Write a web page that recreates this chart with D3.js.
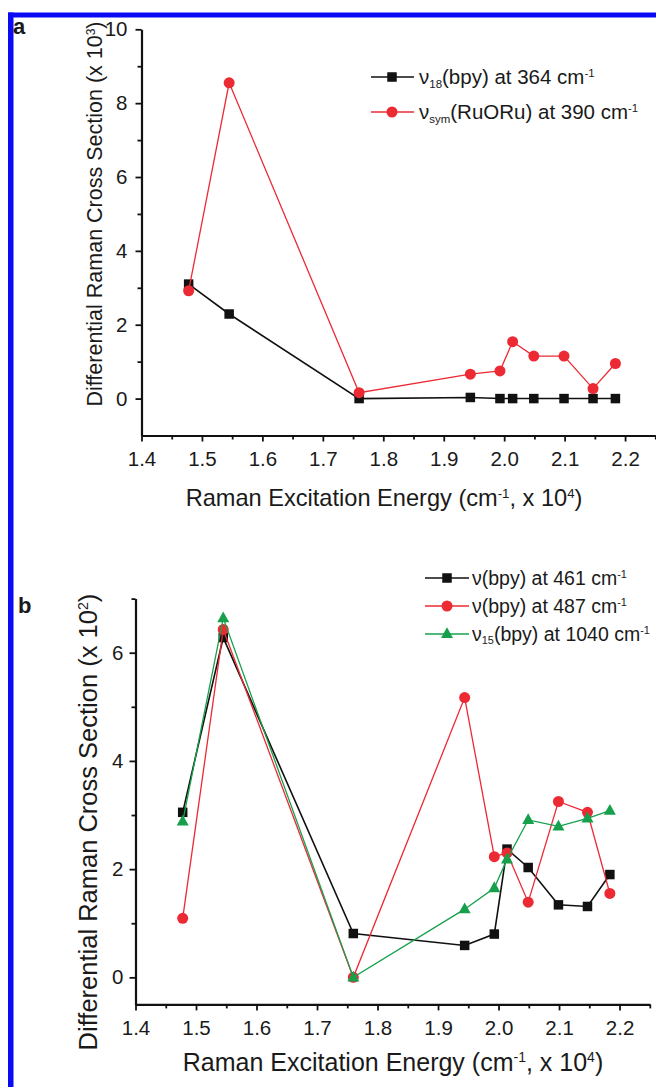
<!DOCTYPE html>
<html><head><meta charset="utf-8">
<script src="https://cdn.jsdelivr.net/npm/d3@7"></script>
<style>
body{margin:0;background:#fff}
svg{display:block}
text{font-family:"Liberation Sans",Arial,Helvetica,sans-serif;fill:#1a1a1a}
</style>
</head><body>
<svg id="chart" width="656" height="1087"></svg>
<script>
// ---- data ----
const excitation = [1.478, 1.545, 1.760, 1.944, 1.993, 2.014, 2.049, 2.099, 2.147, 2.184];
// panel a (x 10^3)
const bpy364   = [3.10, 2.29, 0.00, 0.03, 0.00, 0.00, 0.00, 0.00, 0.00, 0.00];
const ruoru390 = [2.92, 8.55, 0.16, 0.66, 0.75, 1.54, 1.15, 1.15, 0.27, 0.95];
// panel b (x 10^2)
const bpy461   = [3.05, 6.28, 0.81, 0.59, 0.80, 2.37, 2.03, 1.34, 1.31, 1.90];
const bpy487   = [1.09, 6.43, 0.00, 5.17, 2.23, 2.30, 1.39, 3.25, 3.05, 1.55];
const bpy1040  = [2.88, 6.64, 0.00, 1.26, 1.65, 2.18, 2.91, 2.79, 2.94, 3.08];
const xTicks = [1.4, 1.5, 1.6, 1.7, 1.8, 1.9, 2.0, 2.1, 2.2];
const xMinorTicks = [1.45, 1.55, 1.65, 1.75, 1.85, 1.95, 2.05, 2.15, 2.25];
const yTicksA = [0, 2, 4, 6, 8, 10];
const yMinorA = [1, 3, 5, 7, 9];
const yTicksB = [0, 2, 4, 6];
const yMinorB = [1, 3, 5, 7];

const svg = d3.select("#chart");
svg.append("rect").attr("width",656).attr("height",1087).attr("fill","#fff");
// blue frame (top and left)
svg.append("rect").attr("x",8).attr("y",12.5).attr("width",648).attr("height",5).attr("fill","#0a0af5");
svg.append("rect").attr("x",8).attr("y",12.5).attr("width",5.5).attr("height",1075).attr("fill","#0a0af5");

const COLORS = {black:"#111111", red:"#ec2a34", green:"#16a04c"};

function richText(sel, parts){
  parts.forEach(p=>{
    const t = sel.append("tspan").text(p[0]);
    if(p[1]==="sub"){ t.attr("font-size", "0.56em").attr("dy", "0.32em"); }
    else if(p[1]==="sup"){ t.attr("font-size", "0.56em").attr("dy", "-0.62em"); }
  });
  const nodes = sel.selectAll("tspan").nodes();
  for(let i=1;i<nodes.length;i++){
    const prev = parts[i-1][1];
    if(prev==="sub"){ d3.select(nodes[i]).attr("dy", (parts[i][1]==="sup") ? "-0.8em" : "-0.18em"); }
    if(prev==="sup"){ d3.select(nodes[i]).attr("dy", (parts[i][1]==="sub") ? "0.8em" : "0.35em"); }
  }
}

function marker(g, kind, x, y, color, s){
  if(kind==="square"){
    g.append("rect").attr("x",x-s/2).attr("y",y-s/2).attr("width",s).attr("height",s).attr("fill",color);
  } else if(kind==="circle"){
    g.append("circle").attr("cx",x).attr("cy",y).attr("r",s/2).attr("fill",color);
  } else {
    const h = s*0.9;
    g.append("path").attr("d",`M${x},${y-h*0.62}L${x+s/2},${y+h*0.38}L${x-s/2},${y+h*0.38}Z`).attr("fill",color);
  }
}

function panel(cfg){
  const g = svg.append("g");
  const x = d3.scaleLinear().domain([1.4, 2.25]).range(cfg.xr);
  const y = d3.scaleLinear().domain(cfg.yd).range(cfg.yr);
  const fs = 20.5;

  g.append("g").attr("transform",`translate(0,${cfg.yr[0]})`)
    .call(d3.axisBottom(x).tickValues(xTicks).tickFormat(d3.format(".1f")).tickSize(6).tickSizeOuter(0).tickPadding(10));
  g.append("g").attr("transform",`translate(0,${cfg.yr[0]})`)
    .call(d3.axisBottom(x).tickValues(xMinorTicks).tickFormat("").tickSize(4).tickSizeOuter(0))
    .select(".domain").remove();
  g.append("g").attr("transform",`translate(${cfg.xr[0]},0)`)
    .call(d3.axisLeft(y).tickValues(cfg.yt).tickFormat(d3.format("d")).tickSize(6).tickSizeOuter(0).tickPadding(cfg.ypad));
  g.append("g").attr("transform",`translate(${cfg.xr[0]},0)`)
    .call(d3.axisLeft(y).tickValues(cfg.ym).tickFormat("").tickSize(4).tickSizeOuter(0))
    .select(".domain").remove();
  g.selectAll(".domain").attr("stroke","#111").attr("stroke-width",2.2);
  g.selectAll(".tick line").attr("stroke","#111").attr("stroke-width",1.8);
  g.selectAll(".tick text").attr("font-size",fs).attr("fill","#1a1a1a")
    .attr("font-family",'"Liberation Sans",Arial,sans-serif');

  cfg.series.forEach(s=>{
    const pts = excitation.map((e,i)=>[x(e), y(s.values[i])]);
    g.append("path").attr("d", d3.line()(pts)).attr("fill","none")
      .attr("stroke", s.color).attr("stroke-width", s.lw);
    const mg = g.append("g");
    pts.forEach(p=>marker(mg, s.marker, p[0], p[1], s.color, s.size));
  });

  cfg.series.forEach((s,i)=>{
    const ly = cfg.leg.y[i];
    g.append("line").attr("x1",cfg.leg.x1).attr("x2",cfg.leg.x2).attr("y1",ly).attr("y2",ly)
      .attr("stroke",s.color).attr("stroke-width",s.lw);
    marker(g, s.marker, cfg.leg.xm, ly, s.color, s.size);
    const t = g.append("text").attr("x",cfg.leg.xt).attr("y",ly+7).attr("font-size",cfg.leg.fs);
    richText(t, s.label);
  });

  const xt = g.append("text").attr("x",cfg.xtitle[0]).attr("y",cfg.xtitle[1]).attr("text-anchor","middle")
    .attr("font-size",cfg.xtitle[2]);
  richText(xt, [["Raman Excitation Energy (cm","n"],["-1","sup"],[", x 10","n"],["4","sup"],[")","n"]]);
  const yt = g.append("text").attr("transform",`translate(${cfg.ytitle[0]},${cfg.ytitle[1]}) rotate(-90)`)
    .attr("text-anchor","middle").attr("font-size",cfg.ytitle[2]);
  richText(yt, [["Differential Raman Cross Section (x 10","n"],[cfg.exp,"sup"],[")","n"]]);

  g.append("text").attr("x",cfg.letter[0]).attr("y",cfg.letter[1]).attr("font-size",22)
    .attr("font-weight","bold").attr("fill","#111").text(cfg.letter[2]);
}

panel({
  xr:[141.5, 655.3], yd:[-1,10], yr:[435.5, 29.3], yt:yTicksA, ym:yMinorA, ypad:8,
  series:[
    {values:bpy364, color:COLORS.black, lw:1.6, marker:"square", size:9.5,
     label:[["\u03bd","n"],["18","sub"],["(bpy) at 364 cm","n"],["-1","sup"]]},
    {values:ruoru390, color:COLORS.red, lw:1.3, marker:"circle", size:11,
     label:[["\u03bd","n"],["sym","sub"],["(RuORu) at 390 cm","n"],["-1","sup"]]}
  ],
  leg:{x1:371, x2:414, xm:392, xt:419, y:[77,112], fs:20.5},
  xtitle:[384, 506, 23.6], ytitle:[102, 214, 21.5], exp:"3",
  letter:[13, 34, "a"]
});

panel({
  xr:[135.5, 649.8], yd:[-0.5,7], yr:[1004.4, 598.6], yt:yTicksB, ym:yMinorB, ypad:6,
  series:[
    {values:bpy461, color:COLORS.black, lw:1.6, marker:"square", size:9.5,
     label:[["\u03bd(bpy) at 461 cm","n"],["-1","sup"]]},
    {values:bpy487, color:COLORS.red, lw:1.3, marker:"circle", size:11,
     label:[["\u03bd(bpy) at 487 cm","n"],["-1","sup"]]},
    {values:bpy1040, color:COLORS.green, lw:1.3, marker:"triangle", size:12,
     label:[["\u03bd","n"],["15","sub"],["(bpy) at 1040 cm","n"],["-1","sup"]]}
  ],
  leg:{x1:425, x2:469, xm:447, xt:472, y:[578,606,634], fs:19.5},
  xtitle:[393, 1071, 25], ytitle:[96.5, 822, 25.5], exp:"2",
  letter:[18, 613, "b"]
});
</script>
</body></html>
